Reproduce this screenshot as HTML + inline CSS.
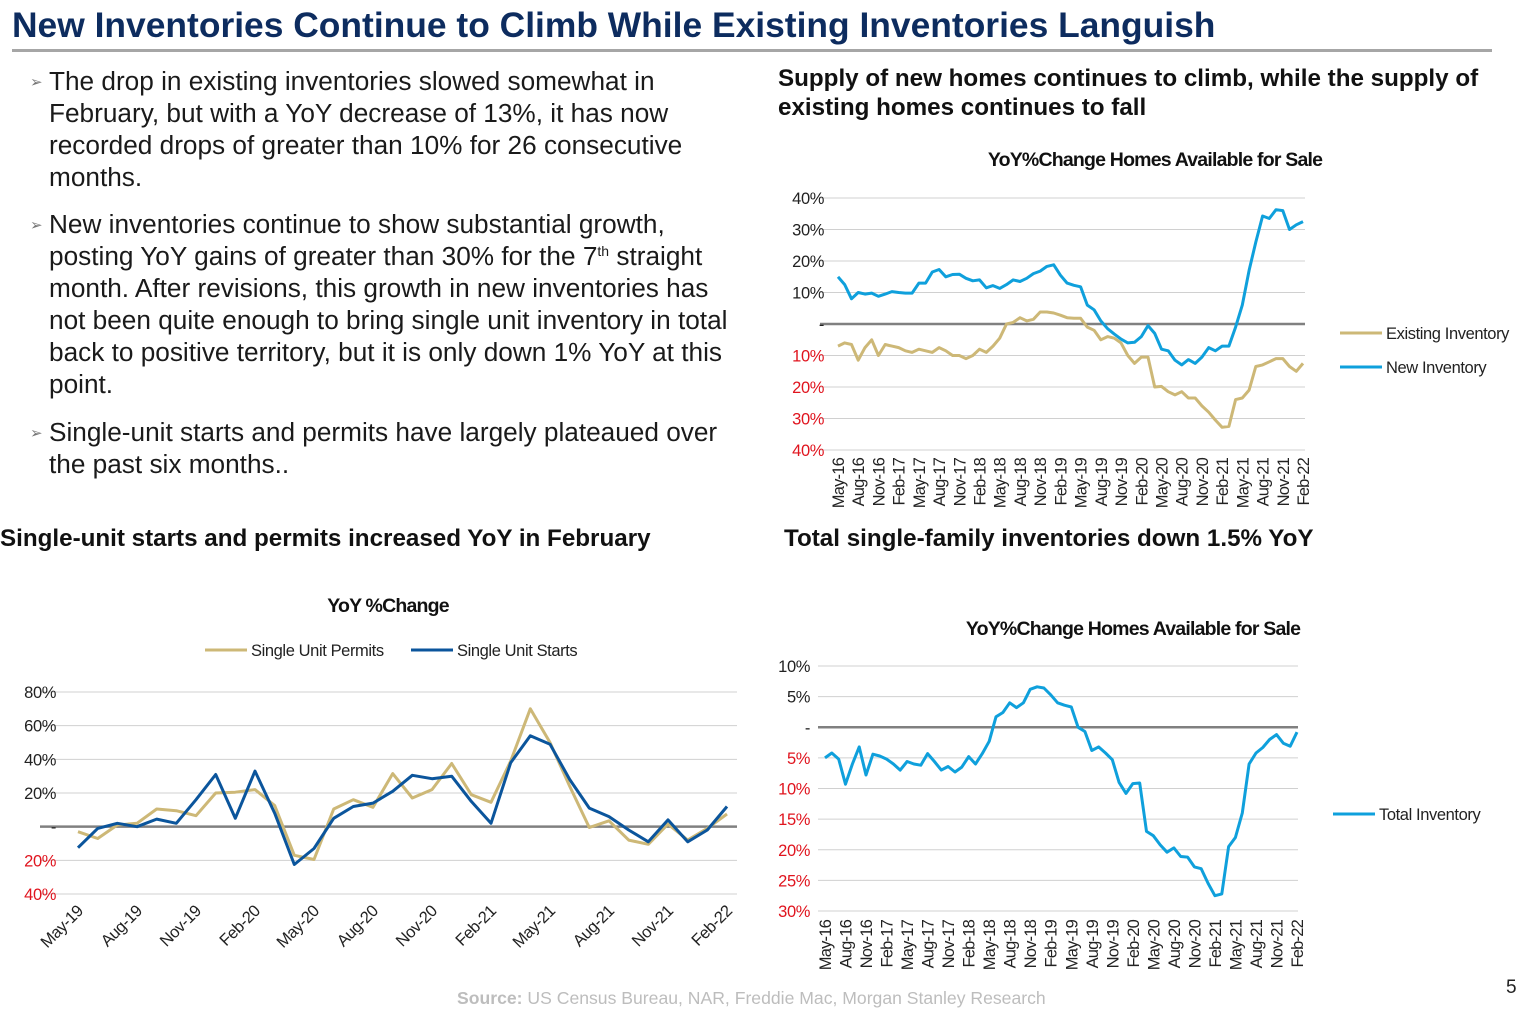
<!DOCTYPE html>
<html><head><meta charset="utf-8"><style>
body{margin:0;width:1525px;height:1016px;background:#fff;overflow:hidden;font-family:"Liberation Sans",Arial,sans-serif;}
.abs{position:absolute;}
#title{left:12px;top:5px;font-size:35.4px;font-weight:bold;color:#0d2c5f;white-space:nowrap;}
#rule{left:12px;top:49px;width:1480px;height:3px;background:#a6a6a6;}
.bul{left:30px;font-size:26.2px;line-height:32px;color:#1a1a1a;white-space:nowrap;}
.bul span.m{position:absolute;left:0;font-size:15px;color:#777;}
.bul div{margin-left:19px;}
.bul sup{font-size:14px;line-height:0;vertical-align:9px;}
.hd{font-size:24.2px;font-weight:bold;color:#111;white-space:nowrap;}
svg text{font-family:"Liberation Sans",Arial,sans-serif;}
</style></head><body>
<div class="abs" id="title">New Inventories Continue to Climb While Existing Inventories Languish</div>
<div class="abs" id="rule"></div>
<div class="abs bul" style="top:65px"><span class="m" style="top:2px">➢</span><div>The drop in existing inventories slowed somewhat in<br>February, but with a YoY decrease of 13%, it has now<br>recorded drops of greater than 10% for 26 consecutive<br>months.</div></div>
<div class="abs bul" style="top:208px"><span class="m" style="top:2px">➢</span><div>New inventories continue to show substantial growth,<br>posting YoY gains of greater than 30% for the 7<sup>th</sup> straight<br>month. After revisions, this growth in new inventories has<br>not been quite enough to bring single unit inventory in total<br>back to positive territory, but it is only down 1% YoY at this<br>point.</div></div>
<div class="abs bul" style="top:416px"><span class="m" style="top:2px">➢</span><div>Single-unit starts and permits have largely plateaued over<br>the past six months..</div></div>
<div class="abs hd" style="left:778px;top:64px;line-height:29px">Supply of new homes continues to climb, while the supply of<br>existing homes continues to fall</div>
<div class="abs hd" style="left:0px;top:525px">Single-unit starts and permits increased YoY in February</div>
<div class="abs hd" style="left:784px;top:525px">Total single-family inventories down 1.5% YoY</div>
<div class="abs" style="left:457px;top:988px;font-size:17.6px;color:#bdbdbd"><b>Source:</b> US Census Bureau, NAR, Freddie Mac, Morgan Stanley Research</div>
<div class="abs" style="left:1506px;top:977px;font-size:19px;color:#222">5</div>
<svg id="s" class="abs" style="left:0;top:0" width="1525" height="1016"></svg>
<script>
const monthsLong=[];(function(){const mn=['Jan','Feb','Mar','Apr','May','Jun','Jul','Aug','Sep','Oct','Nov','Dec'];let m=4,y=16;for(let i=0;i<70;i++){monthsLong.push(mn[m]+'-'+y);m++;if(m>11){m=0;y++;}}})();
const monthsShort=monthsLong.slice(36);
const newInv=[15,12.5,8,10,9.5,9.8,8.8,9.5,10.3,10,9.8,9.8,13,13,16.5,17.3,15,15.7,15.8,14.5,13.7,14,11.5,12.2,11.3,12.5,14,13.5,14.5,16,16.8,18.3,18.8,15.5,13,12.3,11.8,6,4.5,1,-1.5,-3.2,-4.8,-6,-5.8,-4,-0.5,-3,-8,-8.5,-11.5,-13,-11.3,-12.5,-10.5,-7.5,-8.5,-7,-7,-1,6,17,26,34.3,33.5,36.3,36,30,31.5,32.5];
const existingInv=[-7,-6,-6.5,-11.5,-7.5,-5,-10,-6.5,-7,-7.5,-8.5,-9,-8,-8.5,-9,-7.5,-8.5,-10,-10,-11,-10,-8,-9,-7,-4.5,0,0.5,2,1,1.5,3.8,3.8,3.5,2.8,2,1.8,1.8,-1,-2,-5,-4,-4.5,-6,-10,-12.5,-10.5,-10.5,-20,-19.8,-21.5,-22.5,-21.5,-23.5,-23.5,-26,-28,-30.5,-32.8,-32.5,-24,-23.5,-21,-13.5,-13,-12,-11,-11,-13.5,-15,-12.5];
const totalInv=[-5,-4.2,-5.2,-9.3,-6,-3.2,-7.8,-4.4,-4.7,-5.2,-6,-7,-5.6,-6,-6.2,-4.3,-5.6,-7,-6.4,-7.3,-6.5,-4.8,-6,-4.3,-2.3,1.7,2.4,4,3.2,4,6.2,6.6,6.4,5.3,4,3.6,3.3,0,-0.7,-3.8,-3.2,-4.2,-5.3,-9,-10.8,-9.2,-9.1,-17,-17.7,-19.2,-20.4,-19.7,-21.1,-21.2,-22.8,-23.1,-25.5,-27.5,-27.2,-19.5,-18,-14,-6,-4.2,-3.3,-2,-1.2,-2.6,-3.1,-0.8];
const starts=[-12.5,-1,2,0,4.5,2,16,31,5,33,8,-22.5,-13,5,12,14,21,30.5,28.5,30,15,2,38,54,49,28,11,6,-2,-9,4,-9,-2,12];
const permits=[-3,-7,1,2,10.5,9.5,6.5,20,20.5,22,12.5,-17,-19.5,10.5,16,11.5,31.5,17,22,37.5,19,14.5,39,70,50,24,-0.5,3.5,-8,-10.5,1.5,-8,-1,7.5];
const ticksA=[40,30,20,10,0,-10,-20,-30,-40];
const ticksB=[80,60,40,20,0,-20,-40];
const ticksC=[10,5,0,-5,-10,-15,-20,-25,-30];
const NS='http://www.w3.org/2000/svg';const svg=document.getElementById('s');
function el(t,a,p){const e=document.createElementNS(NS,t);for(const k in a)e.setAttribute(k,a[k]);(p||svg).appendChild(e);return e;}
function lbl(v){return v===0?'-':Math.abs(v)+'%';}
function chart(o){
 const g=el('g',{});
 
 
 const n=o.cats.length;
 const X=i=>o.x0+(o.x1-o.x0)*i/(n-1);
 const Y=v=>o.y0+(o.vmax-v)/(o.vmax-o.vmin)*(o.y1-o.y0);
 o.ticks.forEach(t=>{
  const gl=el('line',{x1:o.gx0,x2:o.gx1,y1:Y(t),y2:Y(t),stroke:t===0?'#808080':'#d0d0d0','stroke-width':t===0?2.5:1},g);
  
  
  const tx=el('text',{x:o.lx,y:Y(t)+6,'text-anchor':'end','font-size':16.5,fill:t<0?'#e0141e':'#222','letter-spacing':'-0.4'},g);tx.textContent=lbl(t);
  
  
 });
 o.cats.forEach((c,i)=>{if(i%3)return;
  const x=X(i);let tx;
  if(o.rot===-90){tx=el('text',{x:0,y:0,'text-anchor':'end','font-size':16.5,fill:'#222','letter-spacing':'-0.8',transform:`translate(${x+6},${o.ly}) rotate(-90)`},g);}
  else{tx=el('text',{x:0,y:0,'text-anchor':'end','font-size':16.5,fill:'#222','letter-spacing':'-0.5',transform:`translate(${x+6},${o.ly}) rotate(-45)`},g);}
  tx.textContent=c;
  
  
 });
 o.series.forEach(s=>{
  const p=el('polyline',{points:s.d.map((v,i)=>X(i).toFixed(1)+','+Y(v).toFixed(1)).join(' '),fill:'none',stroke:s.c,'stroke-width':3,'stroke-linejoin':'round'},g);
  
  
 });
 const t=el('text',{x:o.tx,y:o.ty,'text-anchor':'middle','font-size':19.5,'font-weight':'bold',fill:'#111','letter-spacing':'-0.8'},g);t.textContent=o.title;
 
 
 o.legend.forEach(l=>{
  const ll=el('line',{x1:l.x,x2:l.x+42,y1:l.y,y2:l.y,stroke:l.c,'stroke-width':3},g);
  
  
  const lt=el('text',{x:l.x+46,y:l.y+6,'font-size':16.5,fill:'#222','letter-spacing':'-0.4'},g);lt.textContent=l.t;
  
  
 });
}
chart({name:'new-vs-existing-chart',cats:monthsLong,x0:838,x1:1303,gx0:820,gx1:1305,y0:198,y1:450,vmax:40,vmin:-40,ticks:ticksA,lx:824,ly:458,rot:-90,
 series:[{d:existingInv,c:'#cdb877',name:'existing-inventory-line'},{d:newInv,c:'#0fa0dc',name:'new-inventory-line'}],
 title:'YoY%Change Homes Available for Sale',tx:1155,ty:166,
 legend:[{x:1340,y:333,c:'#cdb877',t:'Existing Inventory'},{x:1340,y:367,c:'#0fa0dc',t:'New Inventory'}]});
chart({name:'starts-permits-chart',cats:monthsShort,x0:78,x1:727,gx0:40,gx1:737,y0:692,y1:894,vmax:80,vmin:-40,ticks:ticksB,lx:56,ly:912,rot:-45,
 series:[{d:permits,c:'#cdb877',name:'permits-line'},{d:starts,c:'#0b559c',name:'starts-line'}],
 title:'YoY %Change',tx:388,ty:612,
 legend:[{x:205,y:650,c:'#cdb877',t:'Single Unit Permits'},{x:411,y:650,c:'#0b559c',t:'Single Unit Starts'}]});
chart({name:'total-inventory-chart',cats:monthsLong,x0:825,x1:1297,gx0:818,gx1:1298,y0:666,y1:911,vmax:10,vmin:-30,ticks:ticksC,lx:810,ly:920,rot:-90,
 series:[{d:totalInv,c:'#0fa0dc',name:'total-inventory-line'}],
 title:'YoY%Change Homes Available for Sale',tx:1133,ty:635,
 legend:[{x:1333,y:814,c:'#0fa0dc',t:'Total Inventory'}]});
</script>
</body></html>
